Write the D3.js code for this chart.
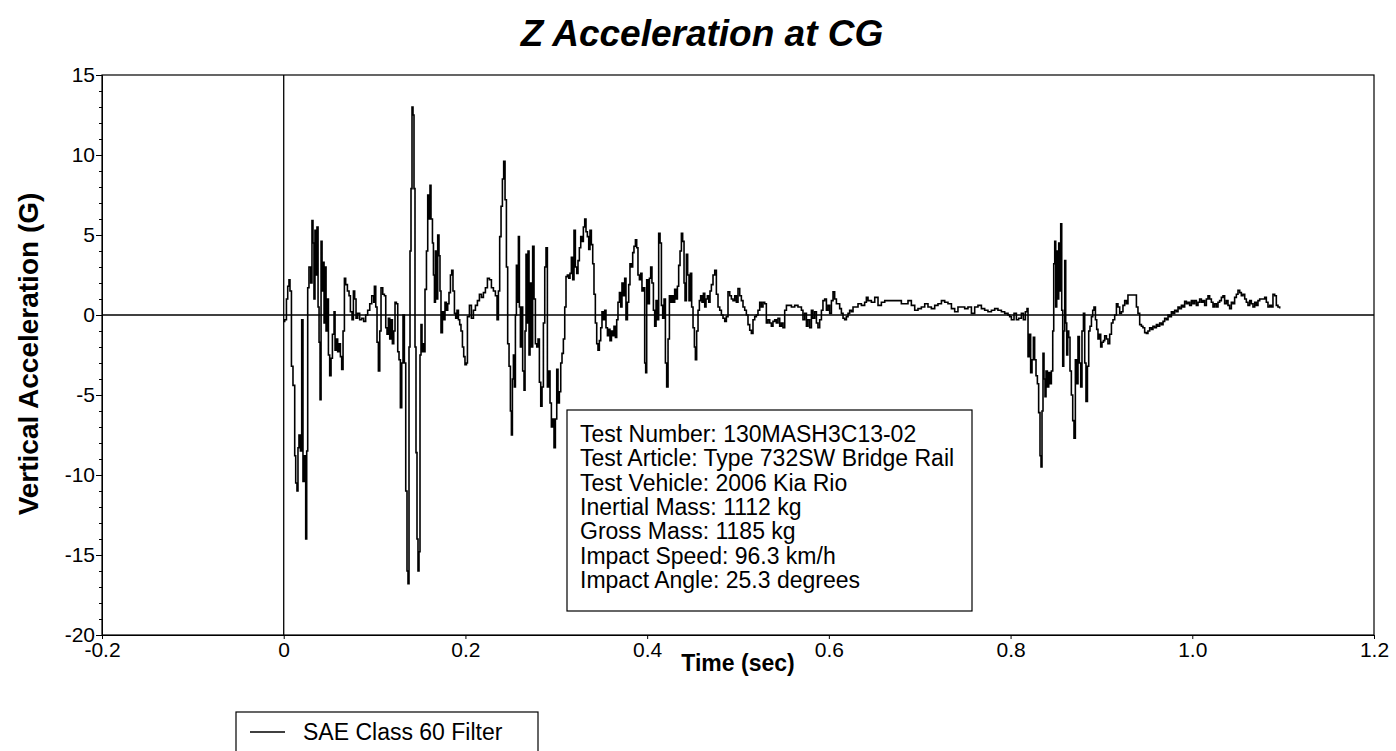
<!DOCTYPE html>
<html>
<head>
<meta charset="utf-8">
<script src="https://cdn.jsdelivr.net/npm/d3@7"></script>
<style>
  html, body { margin: 0; padding: 0; background: #fff; }
  svg { display: block; }
  text { font-family: "Liberation Sans", Arial, sans-serif; fill: #000; }
</style>
</head>
<body>
<svg id="chart" width="1396" height="751"></svg>
<script>
// ---- data ----
const chartTitle = "Z Acceleration at CG";
const xAxisTitle = "Time (sec)";
const yAxisTitle = "Vertical Acceleration (G)";
const seriesName = "SAE Class 60 Filter";
const xTicks = [-0.2, 0, 0.2, 0.4, 0.6, 0.8, 1.0, 1.2];
const xTickLabels = ["-0.2", "0", "0.2", "0.4", "0.6", "0.8", "1.0", "1.2"];
const yTicks = [-20, -15, -10, -5, 0, 5, 10, 15];
const yTickLabels = ["-20", "-15", "-10", "-5", "0", "5", "10", "15"];
const yMinorTicks = [-19,-18,-17,-16,-14,-13,-12,-11,-9,-8,-7,-6,-4,-3,-2,-1,1,2,3,4,6,7,8,9,11,12,13,14];
const infoLines = [
  "Test Number: 130MASH3C13-02",
  "Test Article: Type 732SW Bridge Rail",
  "Test Vehicle: 2006 Kia Rio",
  "Inertial Mass: 1112 kg",
  "Gross Mass: 1185 kg",
  "Impact Speed: 96.3 km/h",
  "Impact Angle: 25.3 degrees"
];

const timeSec = [
0.0000,0.0011,0.0030,0.0044,0.0058,0.0069,0.0085,0.0102,0.0121,0.0132,0.0146,0.0157,0.0168,0.0184,0.0198,0.0212,0.0228,0.0242,0.0253,0.0264,
0.0278,0.0297,0.0311,0.0322,0.0333,0.0344,0.0355,0.0366,0.0378,0.0389,0.0400,0.0411,0.0422,0.0433,0.0444,0.0455,0.0466,0.0477,0.0492,0.0506,
0.0521,0.0536,0.0554,0.0565,0.0580,0.0594,0.0609,0.0624,0.0638,0.0653,0.0668,0.0682,0.0701,0.0719,0.0734,0.0752,0.0767,0.0781,0.0796,0.0814,
0.0836,0.0858,0.0880,0.0902,0.0924,0.0947,0.0969,0.0991,
0.0998,0.1013,0.1027,0.1042,0.1057,0.1071,0.1090,0.1108,0.1123,0.1137,0.1152,0.1167,0.1181,0.1196,0.1211,0.1225,0.1240,0.1255,0.1269,0.1284,
0.1299,0.1313,0.1328,0.1343,0.1357,0.1368,0.1379,0.1390,0.1401,0.1412,0.1423,0.1434,0.1445,0.1456,0.1467,0.1478,0.1489,0.1500,0.1511,0.1522,
0.1533,0.1544,0.1555,0.1571,0.1585,0.1599,0.1610,0.1621,0.1637,0.1648,0.1659,0.1670,0.1681,0.1695,0.1709,0.1720,0.1731,0.1747,0.1761,0.1775,
0.1791,0.1805,0.1819,0.1835,0.1849,0.1863,0.1879,0.1893,0.1907,0.1923,0.1937,0.1951,0.1967,0.1981,0.1995,
0.2011,0.2022,0.2044,0.2066,0.2088,0.2110,0.2132,0.2154,0.2176,0.2198,0.2220,0.2242,0.2264,0.2286,0.2308,0.2330,0.2348,0.2363,0.2377,0.2392,
0.2407,0.2421,0.2436,0.2451,0.2465,0.2480,0.2495,0.2506,0.2517,0.2528,0.2539,0.2550,0.2561,0.2572,0.2583,0.2594,0.2605,0.2616,0.2630,0.2645,
0.2656,0.2667,0.2678,0.2689,0.2700,0.2711,0.2726,0.2740,0.2755,0.2770,0.2785,0.2799,0.2814,0.2829,0.2843,0.2858,0.2873,0.2887,0.2902,0.2917,
0.2931,0.2946,0.2961,0.2975,0.2990,0.3005,0.3019,0.3034,0.3049,0.3063,0.3078,0.3093,0.3107,0.3122,0.3137,0.3151,0.3166,0.3181,0.3195,0.3210,
0.3225,0.3239,0.3254,0.3269,0.3283,0.3298,0.3313,0.3327,0.3342,0.3357,0.3371,0.3386,0.3401,0.3415,0.3430,0.3445,0.3459,0.3474,0.3489,0.3503,
0.3519,0.3533,0.3547,0.3563,0.3577,0.3591,0.3607,0.3621,0.3635,0.3651,0.3665,0.3679,0.3695,0.3709,0.3723,0.3739,0.3753,0.3767,0.3783,0.3797,
0.3811,0.3827,0.3841,0.3855,0.3871,0.3885,0.3899,0.3915,0.3929,0.3943,0.3959,0.3973,
0.3984,0.3995,0.4009,0.4025,0.4039,0.4053,0.4069,0.4083,0.4098,0.4113,0.4127,0.4142,0.4157,0.4171,0.4186,0.4201,0.4215,0.4230,0.4245,0.4259,
0.4274,0.4289,0.4303,0.4318,0.4333,0.4347,0.4362,0.4377,0.4391,0.4406,0.4417,0.4432,0.4446,0.4461,0.4476,0.4490,0.4505,0.4520,0.4531,0.4545,
0.4560,0.4575,0.4589,0.4604,0.4619,0.4634,0.4648,0.4663,0.4678,0.4692,0.4707,0.4725,0.4744,0.4762,0.4780,0.4799,0.4817,0.4835,0.4854,0.4872,
0.4890,0.4909,0.4927,0.4945,0.4964,0.4982,0.5000,0.5019,0.5037,0.5055,0.5074,0.5092,0.5110,0.5129,0.5147,0.5165,0.5184,0.5202,0.5220,0.5239,
0.5257,0.5275,0.5294,0.5312,0.5330,0.5349,0.5367,0.5385,0.5404,0.5422,0.5440,0.5459,0.5477,0.5495,0.5514,0.5533,0.5550,0.5588,0.5624,0.5660,
0.5698,0.5715,0.5734,0.5753,0.5770,0.5789,0.5808,0.5825,0.5844,0.5863,0.5880,0.5899,0.5918,0.5935,0.5954,0.5973,0.5991,0.6009,0.6028,0.6046,
0.6064,0.6083,0.6101,0.6119,0.6138,0.6156,0.6174,0.6193,0.6211,0.6229,0.6248,0.6266,0.6284,0.6321,0.6358,0.6394,0.6413,0.6431,0.6468,0.6505,
0.6541,0.6578,0.6615,0.6651,0.6725,0.6798,0.6835,0.6871,0.6908,0.6945,0.6981,0.7018,0.7055,0.7091,0.7128,0.7165,0.7201,0.7239,0.7275,0.7311,
0.7349,0.7385,0.7421,0.7459,0.7495,0.7531,0.7569,0.7605,0.7641,0.7679,0.7715,0.7751,0.7789,0.7825,0.7861,0.7899,0.7935,0.7972,
0.7990,0.8009,0.8038,0.8064,0.8089,0.8119,0.8141,0.8163,0.8181,0.8192,0.8207,0.8221,0.8236,0.8251,0.8265,0.8280,0.8295,0.8309,0.8324,0.8335,
0.8346,0.8357,0.8368,0.8379,0.8390,0.8405,0.8420,0.8434,0.8449,0.8464,0.8475,0.8486,0.8497,0.8508,0.8519,0.8530,0.8541,0.8552,0.8563,0.8574,
0.8585,0.8596,0.8607,0.8618,0.8629,0.8640,0.8654,0.8669,0.8684,0.8698,0.8713,0.8728,0.8742,0.8757,0.8772,0.8786,0.8802,0.8816,0.8830,0.8846,
0.8860,0.8874,0.8890,0.8904,0.8918,0.8934,0.8948,0.8962,0.8978,0.8992,0.9006,0.9022,0.9036,0.9055,0.9072,0.9091,0.9110,0.9127,0.9146,0.9165,
0.9182,0.9201,0.9220,0.9237,0.9256,0.9275,0.9292,0.9330,0.9366,0.9385,0.9402,0.9421,0.9440,0.9457,0.9476,0.9495,0.9512,0.9531,0.9550,0.9567,
0.9586,0.9605,0.9622,0.9641,0.9660,0.9678,0.9696,0.9715,0.9733,0.9751,0.9770,0.9788,0.9806,0.9825,0.9843,0.9861,0.9880,0.9898,0.9916,0.9935,
0.9953,0.9971,0.9990,1.0008,1.0026,1.0045,1.0063,1.0081,1.0100,1.0118,1.0136,1.0155,1.0173,1.0191,1.0210,1.0228,1.0246,1.0265,1.0283,1.0301,
1.0320,1.0338,1.0356,1.0375,1.0393,1.0411,1.0430,1.0448,1.0466,1.0485,1.0503,1.0522,1.0540,1.0558,1.0577,1.0595,1.0613,1.0632,1.0650,1.0668,
1.0687,1.0705,1.0723,1.0742,1.0760,1.0778,1.0797,1.0815,1.0833,1.0852,1.0870,1.0888,1.0907,1.0925,1.0943,1.0962
];

const accelG = [
-0.4,-0.3,1.0,1.8,2.2,1.5,-3.2,-4.4,-8.8,-10.5,-11.0,-8.3,-7.5,-8.5,-0.3,-10.4,-8.8,-14.0,-8.5,1.7,
3.0,2.0,5.9,4.5,1.0,5.3,2.5,5.5,0.5,-1.7,-5.3,4.6,1.5,3.3,-0.5,3.0,-1.0,1.0,-2.5,-3.8,
-2.7,-1.2,0.2,-2.2,-1.5,-2.3,-1.8,-2.6,-3.4,-1.0,2.3,1.9,1.5,1.2,0.2,-0.3,1.5,1.0,-0.2,0.1,
-0.3,-0.2,-0.4,0.0,0.3,0.7,1.2,0.8,
1.8,0.5,-1.7,-3.5,-1.0,1.7,1.3,1.2,-0.8,-1.2,-0.2,-1.5,-0.3,-1.8,-1.0,0.8,0.7,-2.3,-2.8,-5.8,
-3.0,0.0,-3.0,-11.0,-16.0,-16.8,-2.0,4.0,7.9,13.0,12.5,7.9,-2.0,-8.6,-14.0,-16.0,-14.8,-2.5,-0.6,-2.3,
-1.8,-2.3,1.6,4.0,7.5,6.0,8.1,6.0,4.5,2.5,0.8,4.0,1.0,5.0,3.7,1.5,-1.1,0.2,-0.3,0.8,
0.3,0.7,1.4,2.5,2.8,1.5,0.1,-0.2,0.3,-0.3,-0.6,-1.0,-2.0,-2.6,-3.1,
-3.0,-0.1,0.6,-0.2,0.3,0.6,0.9,1.3,1.1,1.4,1.7,2.3,2.2,1.7,1.5,1.2,-0.3,1.5,4.9,6.8,
8.5,9.6,7.2,3.0,-1.8,-3.2,-6.0,-7.5,-4.0,-2.5,-4.5,0.0,3.1,0.8,4.9,0.5,-2.0,0.5,-3.5,-4.7,
-1.0,3.8,-0.5,4.0,-2.5,2.0,-2.0,4.3,1.0,-1.8,-2.0,-1.5,-4.2,-5.7,-4.5,-0.5,3.0,4.2,-4.5,-3.5,
-5.5,-7.0,-6.5,-8.3,-6.5,-3.4,-5.5,-4.8,-3.0,-2.4,-1.5,0.5,2.4,2.5,2.3,2.6,3.6,2.2,5.3,3.0,
2.6,3.4,4.2,4.9,4.6,5.5,6.0,5.2,4.9,4.1,5.3,4.4,3.2,1.3,-0.5,-1.8,-2.2,-1.6,-0.8,0.2,
-0.3,0.3,-0.8,-1.3,-0.9,-1.6,-1.0,-1.3,-0.7,-1.4,-0.3,0.8,1.4,0.5,2.0,1.2,2.3,-0.3,0.8,1.9,
3.2,3.0,3.9,4.3,4.7,4.2,2.5,2.2,2.6,1.5,1.7,-3.0,
-3.6,2.2,0.7,2.3,3.0,2.0,0.3,-0.7,0.9,-0.3,5.1,4.5,0.6,-0.2,1.0,-3.0,-4.5,-1.5,1.2,0.8,
1.2,0.8,1.6,1.0,1.8,3.1,4.0,5.1,4.6,2.0,0.9,3.8,2.5,0.9,2.6,0.5,-0.8,-2.0,-2.8,-1.0,
0.3,0.9,1.2,0.8,1.35,0.5,1.0,1.2,0.8,1.5,1.9,2.5,2.8,1.3,0.5,0.3,0.0,-0.2,-0.4,-0.1,
1.45,1.2,1.0,0.9,1.2,0.8,1.65,1.2,0.9,0.5,0.3,0.0,-0.6,-0.95,-1.15,-0.3,-0.1,0.0,0.3,0.8,
0.5,0.8,0.7,-0.5,-0.3,-0.5,-0.7,-0.4,-0.3,-0.5,-0.2,-0.7,-0.5,-0.8,0.3,0.6,0.6,0.5,0.6,0.5,
0.3,-0.3,0.1,-0.7,-0.3,-0.8,0.3,-0.2,0.2,-0.5,-0.8,-0.3,0.3,0.9,1.0,0.3,0.6,0.1,0.9,1.45,
1.0,0.7,0.7,0.4,0.1,-0.2,-0.3,-0.1,0.1,0.3,0.2,0.5,0.5,0.7,0.6,0.8,1.1,0.9,0.8,1.1,
0.6,0.8,0.9,0.9,0.9,0.7,0.7,0.9,0.6,0.3,0.4,0.5,0.7,0.5,0.4,0.6,0.7,0.9,0.8,0.7,
0.4,0.2,0.5,0.5,0.4,0.5,0.1,0.5,0.6,0.4,0.3,0.2,0.3,0.4,0.3,0.2,0.1,0.0,
-0.1,-0.3,0.1,-0.3,-0.2,0.1,-0.3,0.2,0.4,-2.6,-1.2,-3.6,-2.8,-1.4,-2.8,-3.8,-4.3,-6.1,-8.8,-9.5,
-6.0,-2.4,-4.0,-5.1,-3.5,-4.5,-3.6,-4.3,-3.5,-1.0,3.2,4.6,0.5,4.0,1.0,4.5,1.5,5.7,0.3,-3.2,
-1.0,3.4,-0.5,-2.5,-1.0,-1.4,-3.5,-5.0,-6.6,-7.7,-2.8,-4.3,-1.35,-3.0,-4.5,-1.0,0.1,-3.0,-5.4,-3.2,
-1.0,-0.7,-0.1,0.3,0.5,-0.3,-0.9,-1.5,-1.2,-2.0,-1.7,-1.6,-1.3,-1.5,-1.8,-1.2,-0.5,-0.3,0.0,0.7,
0.5,0.1,0.2,0.6,0.9,0.7,1.25,1.25,1.25,0.5,0.1,-0.6,-0.7,-0.8,-1.1,-1.15,-1.0,-0.8,-0.9,-0.7,
-0.8,-0.6,-0.7,-0.5,-0.6,-0.4,-0.2,-0.3,0.0,-0.1,0.2,0.1,0.3,0.2,0.5,0.4,0.6,0.5,0.85,0.7,
0.8,0.6,0.9,0.7,0.9,0.6,0.8,1.0,0.8,0.9,0.6,1.0,1.2,1.0,0.8,0.5,0.7,0.5,0.8,0.9,
1.1,1.2,0.7,0.9,0.6,0.4,0.8,0.7,1.1,1.3,1.55,1.4,1.2,1.3,1.0,0.8,0.6,0.9,0.7,0.5,
0.8,0.6,0.9,1.0,1.0,1.0,1.1,0.8,0.5,0.6,0.5,1.3,1.2,0.6,0.5,0.4
];

// ---- layout ----
const plot = { left: 102, right: 1374, top: 75, bottom: 635 };
const svg = d3.select("#chart");

const x = d3.scaleLinear().domain([-0.2, 1.2]).range([plot.left, plot.right]);
const y = d3.scaleLinear().domain([-20, 15]).range([plot.bottom, plot.top]);

// title
svg.append("text")
  .attr("x", 702).attr("y", 46)
  .attr("text-anchor", "middle")
  .style("font-size", "37px").style("font-weight", "bold").style("font-style", "italic")
  .text(chartTitle);

// frame
svg.append("rect")
  .attr("x", plot.left).attr("y", plot.top)
  .attr("width", plot.right - plot.left).attr("height", plot.bottom - plot.top)
  .attr("fill", "none").attr("stroke", "#000").attr("stroke-width", 1.2);

// y axis
const yAxis = svg.append("g").attr("transform", `translate(${plot.left},0)`)
  .call(d3.axisLeft(y).tickValues(yTicks).tickSize(6).tickPadding(1)
    .tickFormat((d, i) => yTickLabels[i]));
svg.append("g").attr("transform", `translate(${plot.left},0)`)
  .call(d3.axisLeft(y).tickValues(yMinorTicks).tickSize(3).tickFormat(""))
  .call(g => g.select(".domain").remove());
yAxis.selectAll("text").style("font-size", "21px").style("font-family", "'Liberation Sans', Arial, sans-serif");

// x axis
const xAxis = svg.append("g").attr("transform", `translate(0,${plot.bottom})`)
  .call(d3.axisBottom(x).tickValues(xTicks).tickSize(4).tickPadding(3)
    .tickFormat((d, i) => xTickLabels[i]));
xAxis.selectAll("text").style("font-size", "21px").style("font-family", "'Liberation Sans', Arial, sans-serif");
svg.selectAll(".domain").attr("stroke", "#000");

// zero reference lines
svg.append("line")
  .attr("x1", plot.left).attr("x2", plot.right)
  .attr("y1", y(0)).attr("y2", y(0))
  .attr("stroke", "#000").attr("stroke-width", 1.3);
svg.append("line")
  .attr("x1", x(0)).attr("x2", x(0))
  .attr("y1", plot.top).attr("y2", plot.bottom)
  .attr("stroke", "#000").attr("stroke-width", 1.3);

// axis titles
svg.append("text")
  .attr("x", (plot.left + plot.right) / 2).attr("y", 671)
  .attr("text-anchor", "middle")
  .style("font-size", "23px").style("font-weight", "bold")
  .text(xAxisTitle);
svg.append("text")
  .attr("transform", `translate(38,354) rotate(-90)`)
  .attr("text-anchor", "middle")
  .style("font-size", "28px").style("font-weight", "bold")
  .text(yAxisTitle);

// series
const data = timeSec.map((t, i) => ({ t, g: accelG[i] }));
const line = d3.line().x(d => x(d.t)).y(d => y(d.g)).curve(d3.curveStepAfter);
svg.append("path")
  .datum(data)
  .attr("d", line)
  .attr("fill", "none")
  .attr("stroke", "#000")
  .attr("stroke-width", 1.6)
  .attr("stroke-linejoin", "miter");

// info box
const info = svg.append("g");
info.append("rect")
  .attr("x", 567).attr("y", 410).attr("width", 405).attr("height", 201)
  .attr("fill", "#fff").attr("stroke", "#000").attr("stroke-width", 1.2);
info.selectAll("text.info").data(infoLines).join("text")
  .attr("class", "info")
  .attr("x", 580)
  .attr("y", (d, i) => 442 + i * 24.3)
  .style("font-size", "23px")
  .text(d => d);

// legend
const legend = svg.append("g");
legend.append("rect")
  .attr("x", 236).attr("y", 712).attr("width", 302).attr("height", 50)
  .attr("fill", "#fff").attr("stroke", "#000").attr("stroke-width", 1.2);
legend.append("line")
  .attr("x1", 250).attr("x2", 285).attr("y1", 732).attr("y2", 732)
  .attr("stroke", "#000").attr("stroke-width", 1.5);
legend.append("text")
  .attr("x", 303).attr("y", 740)
  .style("font-size", "23px")
  .text(seriesName);
</script>
</body>
</html>
